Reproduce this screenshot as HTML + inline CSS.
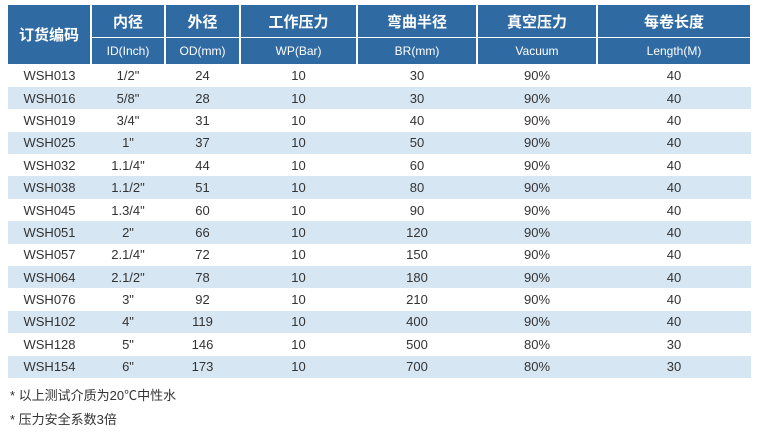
<!DOCTYPE html>
<html><head><meta charset="utf-8"><style>
body{margin:0;width:762px;height:436px;background:#fff;font-family:"Liberation Sans","Noto Sans CJK SC",sans-serif;position:relative;overflow:hidden}
table{position:absolute;left:8px;top:5px;border-collapse:collapse;table-layout:fixed;width:743px}
td,th{padding:0;text-align:center;white-space:nowrap}
th{background:#2f6aa3;color:#fff;border-left:2px solid #fff;border-right:2px solid #fff}
th:first-child{border-left:none}
tr.h1 th{height:32px;font-size:15px;font-weight:bold;border-bottom:1px solid #fff}
tr.h2 th{height:26px;font-size:12px;font-weight:normal}
td{height:22.4px;font-size:13px;color:#333}
tr.a td{background:#d7e6f3}
.n{position:absolute;left:10px;font-size:13px;color:#333}
</style></head><body>
<table>
<colgroup><col style="width:83px"><col style="width:74px"><col style="width:75px"><col style="width:117px"><col style="width:120px"><col style="width:120px"><col style="width:154px"></colgroup>
<tr class="h1"><th rowspan="2">订货编码</th><th>内径</th><th>外径</th><th>工作压力</th><th>弯曲半径</th><th>真空压力</th><th>每卷长度</th></tr>
<tr class="h2"><th>ID(Inch)</th><th>OD(mm)</th><th>WP(Bar)</th><th>BR(mm)</th><th>Vacuum</th><th>Length(M)</th></tr>
<tr><td>WSH013</td><td>1/2"</td><td>24</td><td>10</td><td>30</td><td>90%</td><td>40</td></tr>
<tr class="a"><td>WSH016</td><td>5/8"</td><td>28</td><td>10</td><td>30</td><td>90%</td><td>40</td></tr>
<tr><td>WSH019</td><td>3/4"</td><td>31</td><td>10</td><td>40</td><td>90%</td><td>40</td></tr>
<tr class="a"><td>WSH025</td><td>1"</td><td>37</td><td>10</td><td>50</td><td>90%</td><td>40</td></tr>
<tr><td>WSH032</td><td>1.1/4"</td><td>44</td><td>10</td><td>60</td><td>90%</td><td>40</td></tr>
<tr class="a"><td>WSH038</td><td>1.1/2"</td><td>51</td><td>10</td><td>80</td><td>90%</td><td>40</td></tr>
<tr><td>WSH045</td><td>1.3/4"</td><td>60</td><td>10</td><td>90</td><td>90%</td><td>40</td></tr>
<tr class="a"><td>WSH051</td><td>2"</td><td>66</td><td>10</td><td>120</td><td>90%</td><td>40</td></tr>
<tr><td>WSH057</td><td>2.1/4"</td><td>72</td><td>10</td><td>150</td><td>90%</td><td>40</td></tr>
<tr class="a"><td>WSH064</td><td>2.1/2"</td><td>78</td><td>10</td><td>180</td><td>90%</td><td>40</td></tr>
<tr><td>WSH076</td><td>3"</td><td>92</td><td>10</td><td>210</td><td>90%</td><td>40</td></tr>
<tr class="a"><td>WSH102</td><td>4"</td><td>119</td><td>10</td><td>400</td><td>90%</td><td>40</td></tr>
<tr><td>WSH128</td><td>5"</td><td>146</td><td>10</td><td>500</td><td>80%</td><td>30</td></tr>
<tr class="a"><td>WSH154</td><td>6"</td><td>173</td><td>10</td><td>700</td><td>80%</td><td>30</td></tr>
</table>
<div class="n" style="top:385px">* 以上测试介质为20℃中性水</div>
<div class="n" style="top:409px">* 压力安全系数3倍</div>
</body></html>
